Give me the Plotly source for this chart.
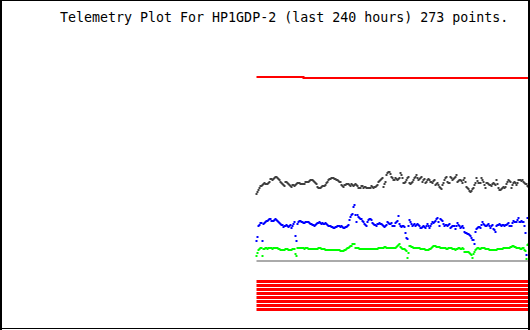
import plotly.graph_objects as go

TITLE = "Telemetry Plot For HP1GDP-2 (last 240 hours) 273 points."

# Readings (row units of the original plot scale, larger = lower on the chart)
black_vals = [
    194,192,190,188,186,186,185,184,183,184,
    184,184,183,182,179,179,180,179,178,177,
    177,178,179,180,182,183,184,185,186,182,
    182,183,184,185,186,187,185,185,186,185,
    184,183,183,183,184,184,184,184,184,182,
    182,182,182,181,180,180,180,181,182,183,
    184,187,188,188,188,187,186,186,186,185,
    183,182,180,179,179,178,178,178,179,179,
    180,180,181,182,182,185,186,187,185,185,
    184,184,184,185,186,184,185,186,185,184,
    185,186,188,188,188,186,186,188,187,187,
    188,188,188,188,188,186,187,188,187,187,
    186,185,182,181,180,179,178,187,184,182,
    175,173,172,172,174,177,178,180,180,178,
    179,180,179,178,173,175,178,183,183,182,
    180,178,177,183,184,183,182,180,178,177,
    175,178,180,179,178,177,182,180,179,183,
    182,180,179,180,182,182,183,181,180,185,
    184,183,185,187,188,189,185,183,180,178,
    177,182,183,183,177,178,180,179,178,177,
    175,182,181,180,180,181,183,180,178,182,
    187,188,189,191,192,191,189,188,185,183,
    178,181,183,183,183,178,180,182,185,188,
    183,183,184,185,185,186,184,183,184,185,
    180,184,188,190,190,189,188,187,188,187,
    184,182,180,181,182,188,185,183,182,183,
    185,183,180,180,180,181,180,182,183,184,
    184,186,187,
]

blue_vals = [
    241,237,226,225,223,223,241,224,223,222,
    221,221,220,219,219,221,221,221,220,219,
    220,221,222,223,224,225,225,227,226,226,
    225,226,227,226,225,228,226,224,222,236,
    241,224,222,221,221,222,222,223,223,222,
    222,222,222,223,224,224,225,225,226,225,
    224,223,223,222,223,224,223,224,224,223,
    224,225,226,226,226,227,227,228,228,227,
    227,226,226,226,227,226,227,228,228,227,
    227,226,225,220,217,215,214,207,205,215,
    222,215,217,218,219,219,221,222,224,225,
    226,222,220,219,219,220,223,224,225,225,
    226,224,224,223,224,224,225,226,227,226,
    225,222,223,224,224,223,226,226,226,223,
    222,221,216,224,226,227,226,226,227,233,
    238,239,226,220,222,224,226,225,224,226,
    225,224,225,226,228,228,227,226,227,228,
    226,224,226,228,226,224,222,223,222,221,
    219,218,222,226,219,220,221,224,226,225,
    225,226,225,224,228,227,226,226,226,229,
    226,223,225,226,228,227,226,228,232,233,
    233,234,234,235,236,238,240,240,244,232,
    229,228,227,227,228,225,222,224,225,226,
    226,225,224,226,228,226,225,229,230,232,
    226,225,225,224,225,226,225,225,226,225,
    225,224,223,226,226,226,223,221,222,222,
    222,220,218,222,222,221,222,222,226,233,
    255,218,218,
]

green_vals = [
    256,253,250,249,248,248,256,249,249,248,
    248,249,248,248,248,248,249,248,248,248,
    248,248,249,249,250,250,250,250,250,249,
    249,249,250,250,250,250,249,249,249,254,
    256,248,248,248,248,248,248,248,249,248,
    248,248,249,249,249,249,249,249,249,249,
    249,249,248,248,248,249,249,249,249,250,
    250,250,250,250,250,250,250,250,250,250,
    250,250,250,250,251,251,251,251,250,250,
    249,248,248,247,246,246,244,244,244,248,
    248,248,248,249,249,249,249,249,249,249,
    249,249,249,249,249,249,249,249,249,249,
    249,249,248,248,248,248,248,248,247,247,
    248,248,248,248,248,248,248,248,248,248,
    247,246,245,244,247,248,249,249,249,250,
    251,258,253,246,246,247,247,248,248,248,
    248,248,248,248,249,249,249,249,249,250,
    250,250,250,249,249,248,247,246,246,246,
    247,247,247,247,248,248,248,248,248,248,
    249,249,248,248,248,248,249,249,249,250,
    249,249,248,248,249,249,248,249,252,252,
    252,252,252,253,254,255,258,254,252,250,
    249,248,248,249,249,248,248,248,248,249,
    249,249,249,250,250,250,250,250,250,250,
    250,249,249,249,249,249,249,248,248,248,
    248,248,248,248,247,247,246,246,247,247,
    248,248,248,248,249,249,248,248,250,251,
    259,245,244,
]

red_top_vals = [77] * 47 + [78] * 226
baseline_val = 261
bit_levels = [281.5, 285.5, 289.5, 293.5, 297.5, 301.5, 305.5, 309.5]

n = len(black_vals)
idx = list(range(n))

fig = go.Figure()

for lvl in bit_levels:
    fig.add_trace(go.Scatter(x=idx, y=[lvl] * n, mode="lines",
                             line=dict(color="#ff0000", width=3), hoverinfo="skip"))

fig.add_trace(go.Scatter(x=idx[:len(red_top_vals)], y=red_top_vals, mode="lines",
                         line=dict(color="#ff0000", width=2, shape="hv"), hoverinfo="skip"))

fig.add_trace(go.Scatter(x=idx, y=[baseline_val] * n, mode="lines",
                         line=dict(color="#aaaaaa", width=2), hoverinfo="skip"))

fig.add_trace(go.Scatter(x=list(range(len(green_vals))), y=green_vals, mode="markers",
                         marker=dict(symbol="square", size=2, color="#00ff00",
                                     line=dict(width=0)), hoverinfo="skip"))
fig.add_trace(go.Scatter(x=list(range(len(blue_vals))), y=blue_vals, mode="markers",
                         marker=dict(symbol="square", size=2, color="#0000ff",
                                     line=dict(width=0)), hoverinfo="skip"))
fig.add_trace(go.Scatter(x=idx, y=black_vals, mode="markers",
                         marker=dict(symbol="square", size=2, color="#404040",
                                     line=dict(width=0)), hoverinfo="skip"))

W, H = 530, 330

def px(v):
    return v / W

def py(v):
    return 1 - v / H

shapes = [
    dict(type="line", xref="paper", yref="paper", x0=px(1), x1=px(1), y0=0, y1=1,
         line=dict(color="black", width=2)),
    dict(type="line", xref="paper", yref="paper", x0=px(529), x1=px(529), y0=0, y1=1,
         line=dict(color="black", width=2)),
    dict(type="line", xref="paper", yref="paper", x0=0, x1=1, y0=py(0.5), y1=py(0.5),
         line=dict(color="black", width=1)),
    dict(type="line", xref="paper", yref="paper", x0=0, x1=1, y0=py(328.5), y1=py(328.5),
         line=dict(color="black", width=1)),
]

fig.update_layout(
    width=W, height=H,
    margin=dict(l=0, r=0, t=0, b=0),
    paper_bgcolor="white", plot_bgcolor="white",
    showlegend=False,
    xaxis=dict(range=[-256.5, 273.5], visible=False, fixedrange=True),
    yaxis=dict(range=[330, 0], visible=False, fixedrange=True),
    shapes=shapes,
    annotations=[dict(
        text=TITLE, xref="paper", yref="paper",
        x=px(58), y=py(17), xanchor="left", yanchor="middle",
        showarrow=False,
        font=dict(family="DejaVu Sans Mono", size=13.3, color="black"),
    )],
)

fig.write_html("out.html", config={"displayModeBar": False, "staticPlot": True})
